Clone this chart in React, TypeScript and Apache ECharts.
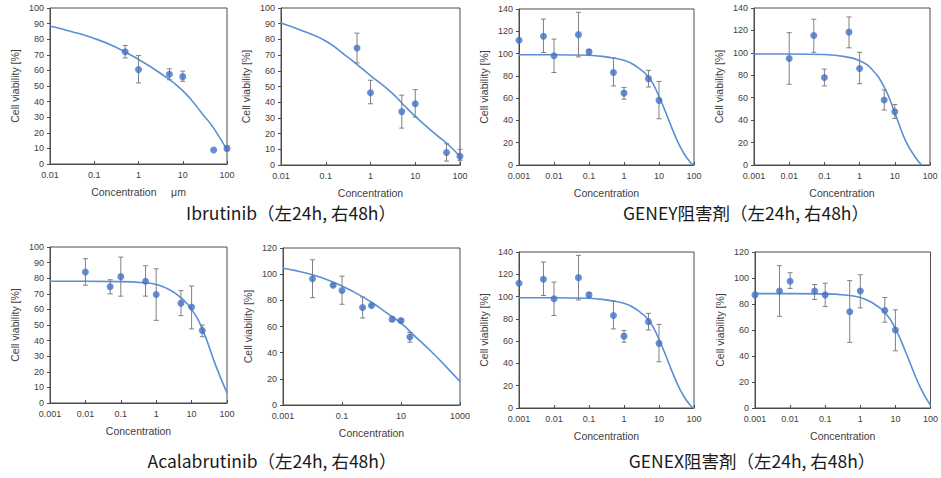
import React, { useEffect, useRef } from "react";
import * as echarts from "echarts";

// ---------- Data (concentration, mean viability %, error bar ends, fitted curve) ----------
// Ibrutinib 24h
const ibr24Conc = [0.5, 1, 5, 10, 50, 100];
const ibr24Mean = [72, 60.5, 57.5, 56, 9, 10];
const ibr24Low = [68, 52, 54, 53, 9, 8.5];
const ibr24High = [76, 69.5, 61, 59.5, 9, 11.5];
const ibr24CurveConc = [0.01, 0.03, 0.1, 0.3, 1, 3, 10, 30, 50, 100];
const ibr24CurveVal = [88.5, 85, 80.5, 75, 67, 58.5, 47, 31, 23, 9];

// Ibrutinib 48h
const ibr48Conc = [0.5, 1, 5, 10, 50, 100];
const ibr48Mean = [74.5, 46, 34, 39, 8, 5.5];
const ibr48Low = [65, 39, 23.5, 30.5, 2.5, 3];
const ibr48High = [84, 54, 44.5, 48, 13.5, 10];
const ibr48CurveConc = [0.01, 0.03, 0.1, 0.3, 1, 3, 5, 10, 30, 50, 100];
const ibr48CurveVal = [90.5, 85.5, 79, 69, 57, 46, 39.5, 31, 19, 14, 5.5];

// GENEY inhibitor 24h
const gy24Conc = [0.001, 0.005, 0.01, 0.05, 0.1, 0.5, 1, 5, 10];
const gy24Mean = [112, 115.5, 98, 117, 101.5, 83, 64.5, 77.5, 58];
const gy24Low = [112, 101, 83, 97, 99.5, 71, 59, 70, 41.5];
const gy24High = [112, 131, 113, 137, 103.5, 96, 69.5, 85, 75];
const gy24CurveConc = [0.001, 0.01, 0.1, 0.3, 1, 2, 5, 10, 20, 30, 50, 80, 100];
const gy24CurveVal = [99, 99, 98.5, 97, 94, 89.5, 79, 61.5, 38.5, 25, 11, 2, 0];

// GENEY inhibitor 48h
const gy48Conc = [0.01, 0.05, 0.1, 0.5, 1, 5, 10];
const gy48Mean = [95, 115.5, 78, 118.5, 86, 58, 47.5];
const gy48Low = [72, 100.5, 70.5, 104.5, 72.5, 49, 41.5];
const gy48High = [118, 130, 85.5, 132, 100.5, 67, 54];
const gy48CurveConc = [0.001, 0.01, 0.1, 0.5, 1, 2, 5, 10, 20, 40, 58];
const gy48CurveVal = [99, 99, 98.5, 96, 93, 87, 69.5, 46.5, 22, 6, 0];

// Acalabrutinib 24h
const aca24Conc = [0.01, 0.05, 0.1, 0.5, 1, 5, 10, 20];
const aca24Mean = [84, 74.5, 81, 78, 69.5, 64, 61.5, 46.5];
const aca24Low = [75.5, 70, 68.5, 68.5, 53, 56, 47.5, 42.5];
const aca24High = [92.5, 79, 93.5, 88, 86, 72, 75, 50];
const aca24CurveConc = [0.001, 0.01, 0.1, 0.5, 1, 2, 5, 10, 20, 50, 100];
const aca24CurveVal = [78, 78, 77.8, 77, 76, 73.5, 67.5, 60, 47.5, 23, 6.5];

// Acalabrutinib 48h
const aca48Conc = [0.01, 0.05, 0.1, 0.5, 1, 5, 10, 20];
const aca48Mean = [96.5, 91.5, 87.5, 74.5, 76, 65.5, 64.5, 52];
const aca48Low = [82, 90.5, 77, 66.5, 75, 64, 63.5, 48];
const aca48High = [111, 92.5, 98.5, 82.5, 77, 67.5, 65.5, 55.5];
const aca48CurveConc = [0.001, 0.003, 0.01, 0.03, 0.1, 0.3, 1, 3, 10, 30, 100, 300, 1000];
const aca48CurveVal = [104.5, 102.5, 99.5, 96, 91, 85.5, 78.5, 71, 62.5, 52.5, 41.5, 30.5, 18];

// GENEX inhibitor 24h
const gx24Conc = [0.001, 0.005, 0.01, 0.05, 0.1, 0.5, 1, 5, 10];
const gx24Mean = [112, 115.5, 98, 117, 101.5, 83, 64.5, 77.5, 58];
const gx24Low = [112, 101, 83, 97, 99.5, 71, 59, 70, 41.5];
const gx24High = [112, 131, 113, 137, 103.5, 96, 69.5, 85, 75];
const gx24CurveConc = [0.001, 0.01, 0.1, 0.3, 1, 2, 5, 10, 20, 30, 50, 80, 100];
const gx24CurveVal = [99, 99, 98.5, 97, 94, 89.5, 79, 61.5, 38.5, 25, 11, 2, 0];

// GENEX inhibitor 48h
const gx48Conc = [0.001, 0.005, 0.01, 0.05, 0.1, 0.5, 1, 5, 10];
const gx48Mean = [87, 90, 97.5, 90, 87, 74, 90, 75, 60];
const gx48Low = [87, 70.5, 92, 83.5, 78, 50.5, 77, 66, 44];
const gx48High = [87, 109.5, 104, 95, 96, 98, 102.5, 85, 75.5];
const gx48CurveConc = [0.001, 0.01, 0.1, 0.5, 1, 2, 5, 10, 20, 50, 100];
const gx48CurveVal = [88, 88, 87.8, 86.5, 85, 81.5, 73.5, 61, 42.5, 16.5, 2];

// Tick labels for log10 exponents
const xTickExponents = [-3, -2, -1, 0, 1, 2, 3];
const xTickLabels = ["0.001", "0.01", "0.1", "1", "10", "100", "1000"];

const titles = [
  "Ibrutinib（左24h, 右48h）",
  "GENEY阻害剤（左24h, 右48h）",
  "Acalabrutinib（左24h, 右48h）",
  "GENEX阻害剤（左24h, 右48h）",
];

const yName = "Cell viability [%]";
const xName = "Concentration";

type Panel = {
  conc: number[]; mean: number[]; low: number[]; high: number[];
  cConc: number[]; cVal: number[];
  xMin: number; xMax: number; xInt: number;
  yMax: number; yInt: number;
  grid: { left: number; top: number; width: number; height: number };
  xName: string;
};

const panels: Panel[] = [
  { conc: ibr24Conc, mean: ibr24Mean, low: ibr24Low, high: ibr24High, cConc: ibr24CurveConc, cVal: ibr24CurveVal,
    xMin: -2, xMax: 2, xInt: 1, yMax: 100, yInt: 10, grid: { left: 50, top: 8, width: 177, height: 156 }, xName: xName + "     μm" },
  { conc: ibr48Conc, mean: ibr48Mean, low: ibr48Low, high: ibr48High, cConc: ibr48CurveConc, cVal: ibr48CurveVal,
    xMin: -2, xMax: 2, xInt: 1, yMax: 100, yInt: 10, grid: { left: 281, top: 8, width: 179, height: 157 }, xName },
  { conc: gy24Conc, mean: gy24Mean, low: gy24Low, high: gy24High, cConc: gy24CurveConc, cVal: gy24CurveVal,
    xMin: -3, xMax: 2, xInt: 1, yMax: 140, yInt: 20, grid: { left: 519, top: 9, width: 175, height: 156 }, xName },
  { conc: gy48Conc, mean: gy48Mean, low: gy48Low, high: gy48High, cConc: gy48CurveConc, cVal: gy48CurveVal,
    xMin: -3, xMax: 2, xInt: 1, yMax: 140, yInt: 20, grid: { left: 754, top: 8, width: 176, height: 157 }, xName },
  { conc: aca24Conc, mean: aca24Mean, low: aca24Low, high: aca24High, cConc: aca24CurveConc, cVal: aca24CurveVal,
    xMin: -3, xMax: 2, xInt: 1, yMax: 100, yInt: 10, grid: { left: 50, top: 247, width: 177, height: 156 }, xName },
  { conc: aca48Conc, mean: aca48Mean, low: aca48Low, high: aca48High, cConc: aca48CurveConc, cVal: aca48CurveVal,
    xMin: -3, xMax: 3, xInt: 2, yMax: 120, yInt: 20, grid: { left: 283, top: 248, width: 177, height: 157 }, xName },
  { conc: gx24Conc, mean: gx24Mean, low: gx24Low, high: gx24High, cConc: gx24CurveConc, cVal: gx24CurveVal,
    xMin: -3, xMax: 2, xInt: 1, yMax: 140, yInt: 20, grid: { left: 519, top: 252, width: 175, height: 156 }, xName },
  { conc: gx48Conc, mean: gx48Mean, low: gx48Low, high: gx48High, cConc: gx48CurveConc, cVal: gx48CurveVal,
    xMin: -3, xMax: 2, xInt: 1, yMax: 120, yInt: 20, grid: { left: 755, top: 252, width: 176, height: 156 }, xName },
];

const FRAME = "#4d4d4d";
const LABEL = "#404040";
const POINT = "#4472c4";
const CURVE = "#5b8fd6";
const ERR = "#808080";

function expLabel(v: number): string {
  const i = xTickExponents.indexOf(Math.round(v));
  return i >= 0 ? xTickLabels[i] : "";
}

export default function App() {
  const ref = useRef<HTMLDivElement>(null);
  useEffect(() => {
    if (!ref.current) return;
    const chart = echarts.init(ref.current, undefined, { renderer: "svg" });
    const grid: any[] = [];
    const xAxis: any[] = [];
    const yAxis: any[] = [];
    const series: any[] = [];
    panels.forEach((p, k) => {
      grid.push({ ...p.grid, show: true, borderColor: FRAME, borderWidth: 1, backgroundColor: "transparent", containLabel: false });
      xAxis.push({
        type: "value", gridIndex: k, min: p.xMin, max: p.xMax, interval: p.xInt,
        name: p.xName, nameLocation: "middle", nameGap: 22,
        nameTextStyle: { color: LABEL, fontSize: 10.5, fontFamily: "Liberation Sans" },
        axisLine: { show: true, onZero: false, lineStyle: { color: FRAME } },
        axisTick: { show: true, inside: true, length: 3, lineStyle: { color: FRAME } },
        splitLine: { show: false },
        axisLabel: { color: LABEL, fontSize: 9, fontFamily: "Liberation Sans", margin: 6, formatter: (v: number) => expLabel(v) },
      });
      yAxis.push({
        type: "value", gridIndex: k, min: 0, max: p.yMax, interval: p.yInt,
        name: yName, nameLocation: "middle", nameGap: 30, nameRotate: 90,
        nameTextStyle: { color: LABEL, fontSize: 10.5, fontFamily: "Liberation Sans" },
        axisLine: { show: true, onZero: false, lineStyle: { color: FRAME } },
        axisTick: { show: true, inside: false, length: 3, lineStyle: { color: FRAME } },
        splitLine: { show: false },
        axisLabel: { color: LABEL, fontSize: 9, fontFamily: "Liberation Sans", margin: 6 },
      });
      series.push({
        type: "line", xAxisIndex: k, yAxisIndex: k, z: 1,
        data: p.cConc.map((c, i) => [Math.log10(c), p.cVal[i]]),
        smooth: 0.5, showSymbol: false, symbol: "none",
        lineStyle: { color: CURVE, width: 1.6 }, silent: true,
      });
      series.push({
        type: "custom", xAxisIndex: k, yAxisIndex: k, z: 2,
        encode: { x: 0, y: [1, 2] },
        data: p.conc.map((c, i) => [Math.log10(c), p.low[i], p.high[i]]),
        renderItem: (_params: any, api: any) => {
          const x = api.value(0), lo = api.value(1), hi = api.value(2);
          if (hi - lo < 0.01) return { type: "group", children: [] };
          const a = api.coord([x, lo]);
          const b = api.coord([x, hi]);
          const w = 2.5;
          const style = { stroke: ERR, lineWidth: 1 };
          return {
            type: "group",
            children: [
              { type: "line", shape: { x1: a[0], y1: a[1], x2: b[0], y2: b[1] }, style },
              { type: "line", shape: { x1: a[0] - w, y1: a[1], x2: a[0] + w, y2: a[1] }, style },
              { type: "line", shape: { x1: b[0] - w, y1: b[1], x2: b[0] + w, y2: b[1] }, style },
            ],
          };
        },
      });
      series.push({
        type: "scatter", xAxisIndex: k, yAxisIndex: k, z: 3,
        data: p.conc.map((c, i) => [Math.log10(c), p.mean[i]]),
        symbol: "circle", symbolSize: 7, itemStyle: { color: POINT },
      });
    });
    const titlePos = [[291, 212], [746, 212], [272, 460], [752, 460]];
    chart.setOption({
      animation: false,
      backgroundColor: "#ffffff",
      grid, xAxis, yAxis, series,
      graphic: titles.map((t, i) => ({
        type: "text", x: titlePos[i][0], y: titlePos[i][1],
        style: { text: t, fontSize: 17.5, fontFamily: "Noto Sans CJK JP", fill: "#1a1a1a", align: "center", verticalAlign: "middle" },
      })),
    });
    return () => chart.dispose();
  }, []);
  return <div ref={ref} style={{ position: "fixed", left: 0, top: 0, width: 941, height: 478 }} />;
}
